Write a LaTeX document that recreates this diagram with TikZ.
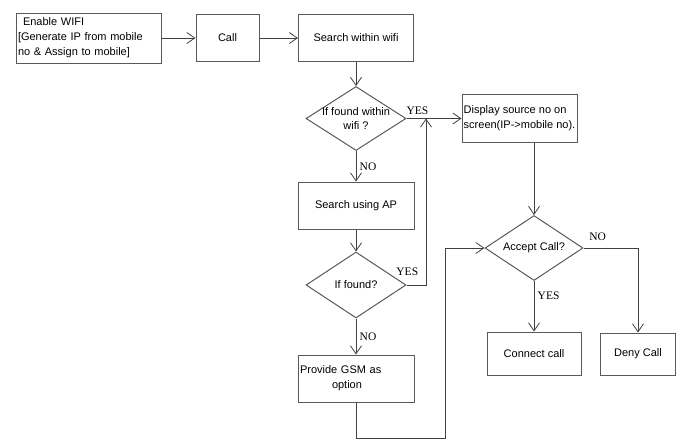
\documentclass[tikz,border=0pt]{standalone}
\usepackage{fontspec}
\setmainfont{Liberation Serif}
\setsansfont{Liberation Sans}
\usetikzlibrary{arrows.meta,shapes.geometric}

\tikzset{
    box/.style={draw=black!65, line width=1pt, inner sep=2pt,
        font=\sffamily\fontsize{11}{15}\selectfont},
    choice/.style={diamond, aspect=1.5, draw=black!65, line width=1pt,
        inner xsep=-12pt, inner ysep=0pt,
        align=center, font=\sffamily\fontsize{11}{14}\selectfont},
    arr/.style={color=black!75, line width=0.8pt,
        -{Straight Barb[length=8pt,width=11pt]}},
    tag/.style={text=black, font=\fontsize{11.5}{13}\selectfont}
}

\begin{document}
\begin{tikzpicture}[x=1pt, y=1pt]
    \useasboundingbox (0, 0) rectangle (684, -440);

    \node[box, text width=141pt, minimum height=50pt, align=left] at (88.5, -38)(wifi)
        {\hspace{5pt}Enable WIFI\\{[}Generate IP from mobile\\no \& Assign to mobile]};
    \node[box, minimum width=63pt, minimum height=47pt] at (227.5, -38)(call){Call};
    \node[box, minimum width=115pt, minimum height=47pt] at (356, -38)(search){Search within wifi};
    \node[choice, minimum width=100pt, minimum height=64pt] at (356, -118.5)(found1){If found within\\wifi ?};
    \node[box, minimum width=115pt, minimum height=48pt, inner sep=1.5pt, align=left] at (519.5, -118.5)(disp)
        {Display source no on\\screen(IP->mobile no).};
    \node[box, minimum width=116pt, minimum height=47pt] at (356, -205.5)(ap){Search using AP};
    \node[choice, minimum width=100pt, minimum height=66pt] at (356, -285)(found2){If found?};
    \node[box, text width=112pt, minimum height=47pt, align=left] at (356, -378.5)(gsm)
        {Provide GSM as\\\hspace*{32pt}option};
    \node[choice, minimum width=98pt, minimum height=65pt] at (534, -248)(accept){Accept Call?};
    \node[box, minimum width=94pt, minimum height=43pt] at (534, -353.5)(connect){Connect call};
    \node[box, minimum width=75pt, minimum height=42pt] at (638, -354)(deny){Deny Call};

    \coordinate (merge) at (426, -118.5);
    \coordinate (loop) at (445, -438);

    \path[arr]
    (wifi)edge(call)
    (call)edge(search)
    (search)edge(found1)
    (found1)edge node[tag, above, pos=0.2](yes1){YES}(disp)
    (found1)edge node[tag, right](no1){NO}(ap)
    (ap)edge(found2)
    (found2)edge node[tag, right](no2){NO}(gsm)
    (accept |- disp.south)edge(accept)
    (accept)edge node[tag, right, pos=0.3](yes3){YES}(connect)
    ;
    \draw[arr] (found2) -| node[tag, above, pos=0.02, yshift=6pt](yes2){YES} (merge);
    \draw[arr] (gsm) |- (loop) |- (accept);
    \draw[arr] (accept) -| node[tag, above right, pos=0.02, yshift=4pt](no3){NO} (deny);
\end{tikzpicture}
\end{document}
